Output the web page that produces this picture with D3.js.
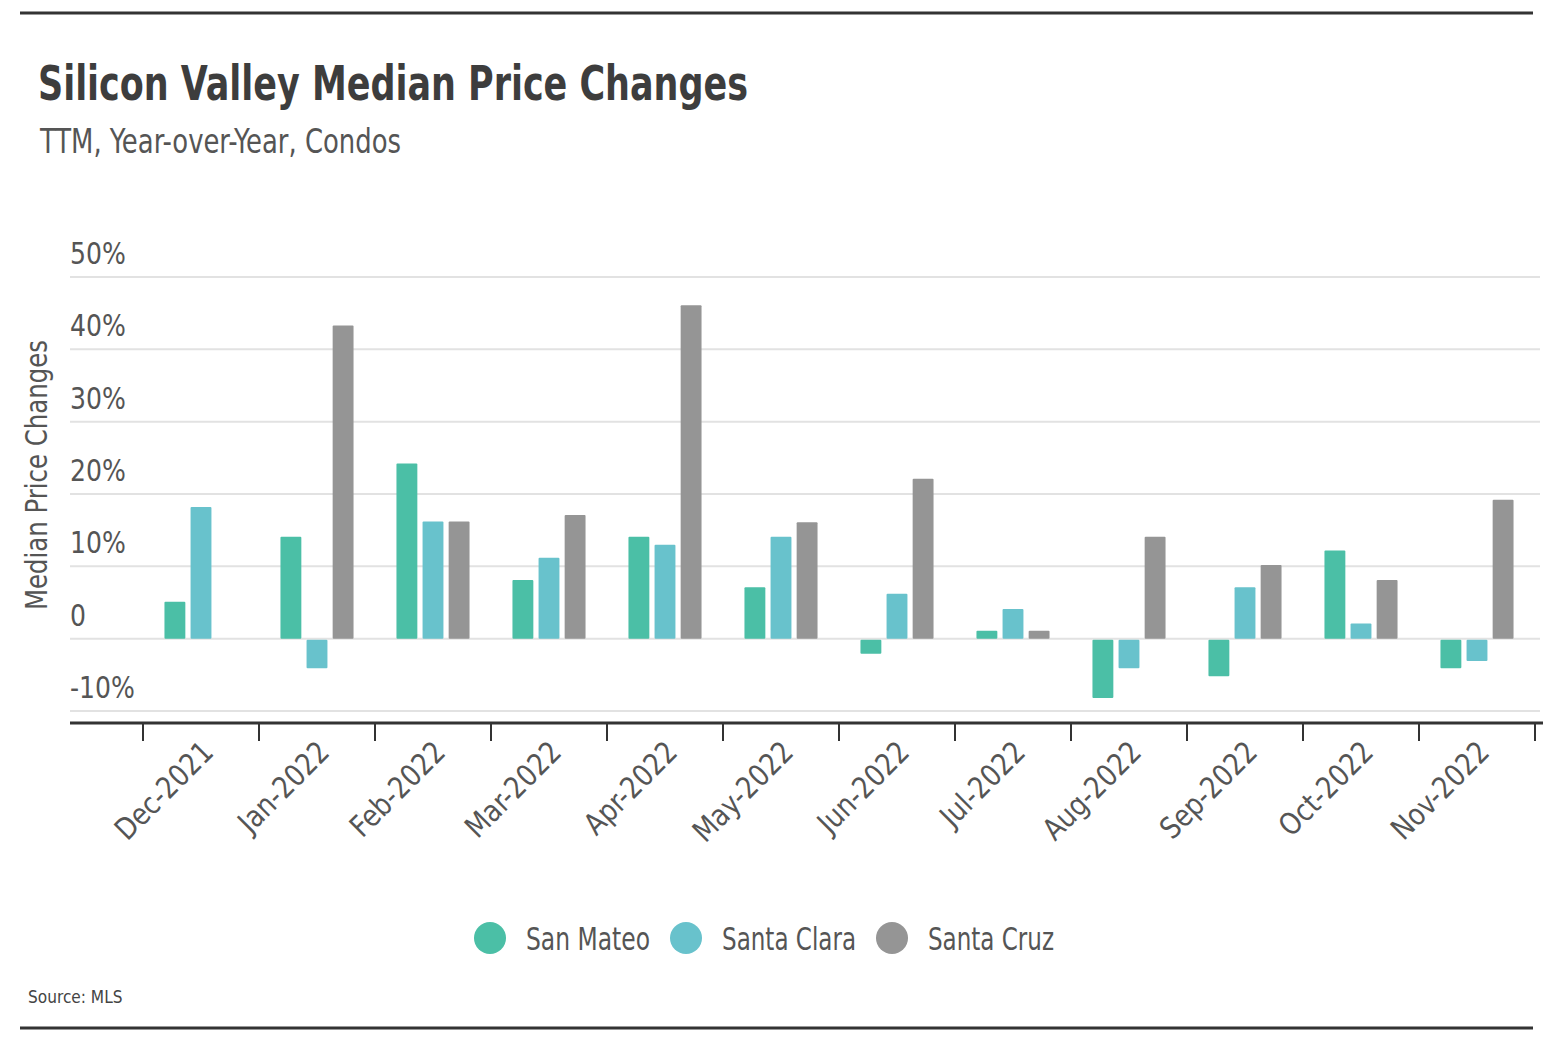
<!DOCTYPE html>
<html>
<head>
<meta charset="utf-8">
<script src="https://cdn.jsdelivr.net/npm/d3@7"></script>
<style>
  body { margin: 0; background: #fff; }
  svg { display: block; font-family: "DejaVu Sans Condensed", "DejaVu Sans", sans-serif; }
</style>
</head>
<body>
<svg id="chart"></svg>
<script>
const width = 1552;
const height = 1040;

// data (percent)
const months = ["Dec-2021", "Jan-2022", "Feb-2022", "Mar-2022", "Apr-2022", "May-2022",
                "Jun-2022", "Jul-2022", "Aug-2022", "Sep-2022", "Oct-2022", "Nov-2022"];
const series = ["San Mateo", "Santa Clara", "Santa Cruz"];
const sanMateo   = [5.1, 14.1, 24.2, 8.1, 14.1, 7.1, -2.1, 1.1, -8.2, -5.2, 12.2, -4.1];
const santaClara = [18.2, -4.1, 16.2, 11.2, 13.0, 14.1, 6.2, 4.1, -4.1, 7.1, 2.1, -3.1];
const santaCruz  = [0, 43.3, 16.2, 17.1, 46.1, 16.1, 22.1, 1.1, 14.1, 10.2, 8.1, 19.2];
const yTicks = [-10, 0, 10, 20, 30, 40, 50];
const colors = ["#4bbfa6", "#68c2cc", "#959595"];

const values = [sanMateo, santaClara, santaCruz];
const rows = months.map((m, i) => ({ month: m, vals: series.map((s, j) => ({ key: s, idx: j, value: values[j][i] })) }));

const svg = d3.select("#chart")
    .attr("width", width)
    .attr("height", height);

// squeeze text a bit, the original uses a condensed face
function squeeze(sel, k) {
    sel.attr("textLength", function () { return this.getComputedTextLength() * k; })
       .attr("lengthAdjust", "spacingAndGlyphs");
}

const margin = { left: 143, right: 1535, top: 277, bottom: 711 };

const x0 = d3.scaleBand()
    .domain(months)
    .range([margin.left, margin.right])
    .paddingInner(0.37)
    .paddingOuter(0.185);

const x1 = d3.scaleBand()
    .domain(series)
    .range([0, x0.bandwidth()])
    .paddingInner(0.2);

const y = d3.scaleLinear()
    .domain([-10, 50])
    .range([margin.bottom, margin.top]);

// top and bottom rules
svg.append("line")
    .attr("x1", 20).attr("x2", 1533).attr("y1", 13).attr("y2", 13)
    .attr("stroke", "#333").attr("stroke-width", 3);
svg.append("line")
    .attr("x1", 20).attr("x2", 1533).attr("y1", 1028).attr("y2", 1028)
    .attr("stroke", "#333").attr("stroke-width", 3);

// title
svg.append("text")
    .attr("x", 38).attr("y", 100)
    .attr("font-size", "48px")
    .attr("font-weight", "bold")
    .attr("fill", "#3d3d3d")
    .text("Silicon Valley Median Price Changes")
    .attr("textLength", 710)
    .attr("lengthAdjust", "spacingAndGlyphs");

svg.append("text")
    .attr("x", 40).attr("y", 153)
    .attr("font-size", "33px")
    .attr("fill", "#555")
    .text("TTM, Year-over-Year, Condos")
    .attr("textLength", 361)
    .attr("lengthAdjust", "spacingAndGlyphs");

// gridlines + y tick labels
const grid = svg.append("g");
grid.selectAll("line")
    .data(yTicks)
    .enter()
    .append("line")
    .attr("x1", 70).attr("x2", 1540)
    .attr("y1", d => y(d)).attr("y2", d => y(d))
    .attr("stroke", "#e2e2e2")
    .attr("stroke-width", 2);

grid.selectAll("text")
    .data(yTicks)
    .enter()
    .append("text")
    .attr("x", 70)
    .attr("y", d => y(d) - 13)
    .attr("font-size", "31px")
    .attr("fill", "#555")
    .text(d => d === 0 ? "0" : d + "%")
    .call(squeeze, 0.9);

// y axis title
svg.append("text")
    .attr("transform", "translate(47, 475) rotate(-90)")
    .attr("text-anchor", "middle")
    .attr("font-size", "31px")
    .attr("fill", "#555")
    .text("Median Price Changes")
    .attr("textLength", 270)
    .attr("lengthAdjust", "spacingAndGlyphs");

// bars
const groups = svg.append("g")
    .selectAll("g")
    .data(rows)
    .enter()
    .append("g")
    .attr("transform", d => `translate(${x0(d.month)},0)`);

groups.selectAll("rect")
    .data(d => d.vals)
    .enter()
    .append("rect")
    .attr("x", d => x1(d.key))
    .attr("width", x1.bandwidth())
    .attr("y", d => d.value >= 0 ? y(d.value) : y(0) + 1)
    .attr("height", d => Math.max(0, Math.abs(y(d.value) - y(0)) - (d.value < 0 ? 1 : 0)))
    .attr("rx", 1)
    .attr("fill", d => colors[d.idx]);

// x axis
const axisY = 723;
svg.append("line")
    .attr("x1", 70).attr("x2", 1543)
    .attr("y1", axisY).attr("y2", axisY)
    .attr("stroke", "#333").attr("stroke-width", 3);

const step = x0.step();
const tickPos = d3.range(months.length + 1).map(i => margin.left + i * step);
svg.append("g")
    .selectAll("line")
    .data(tickPos)
    .enter()
    .append("line")
    .attr("x1", d => d).attr("x2", d => d)
    .attr("y1", axisY).attr("y2", axisY + 18)
    .attr("stroke", "#333").attr("stroke-width", 2);

svg.append("g")
    .selectAll("text")
    .data(months)
    .enter()
    .append("text")
    .attr("transform", d => `translate(${x0(d) + x0.bandwidth() / 2 + 14}, 754) rotate(-45)`)
    .attr("text-anchor", "end")
    .attr("font-size", "30px")
    .attr("fill", "#555")
    .text(d => d)
    .call(squeeze, 0.95);

// legend
const legendX = [490, 686, 892];
const legendW = [124, 134, 126];
const legend = svg.append("g");
legend.selectAll("circle")
    .data(series)
    .enter()
    .append("circle")
    .attr("cx", (d, i) => legendX[i])
    .attr("cy", 938)
    .attr("r", 16)
    .attr("fill", (d, i) => colors[i]);

legend.selectAll("text")
    .data(series)
    .enter()
    .append("text")
    .attr("x", (d, i) => legendX[i] + 36)
    .attr("y", 950)
    .attr("font-size", "32px")
    .attr("fill", "#555")
    .text(d => d)
    .attr("textLength", (d, i) => legendW[i])
    .attr("lengthAdjust", "spacingAndGlyphs");

// source
svg.append("text")
    .attr("x", 28).attr("y", 1003)
    .attr("font-size", "18px")
    .attr("fill", "#444")
    .text("Source:  MLS")
    .call(squeeze, 0.95);
</script>
</body>
</html>
